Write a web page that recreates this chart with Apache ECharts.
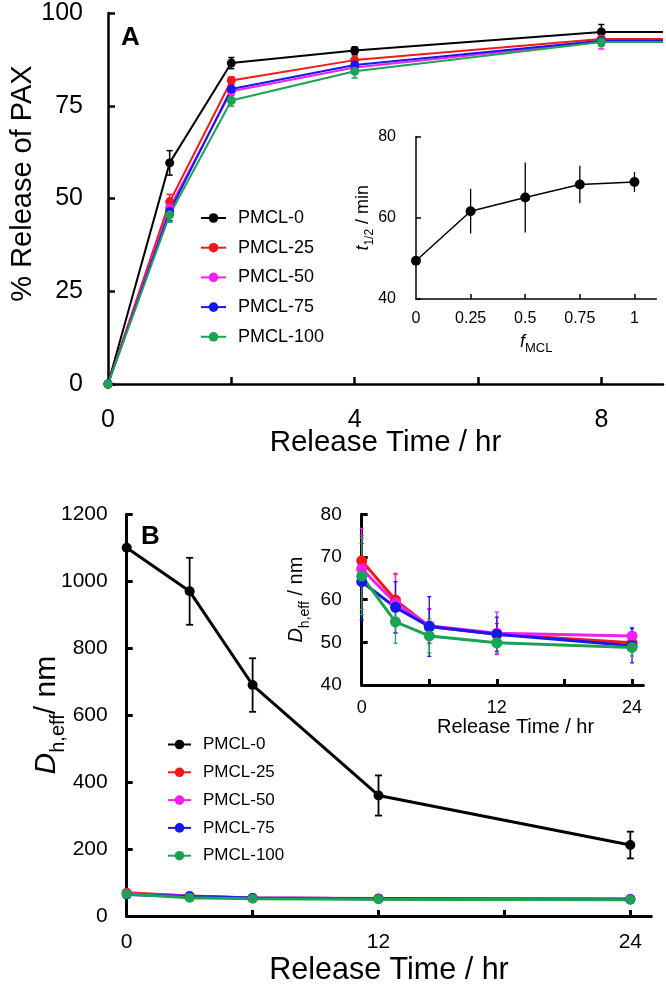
<!DOCTYPE html>
<html>
<head>
<meta charset="utf-8">
<script src="https://cdn.jsdelivr.net/npm/echarts@6/dist/echarts.min.js"></script>
<style>
  html, body { margin: 0; padding: 0; background: #fff; }
  #chart { width: 666px; height: 987px; }
</style>
</head>
<body>
<div id="chart"></div>
<script>
// ---- data ----
const seriesNames = ["PMCL-0", "PMCL-25", "PMCL-50", "PMCL-75", "PMCL-100"];
const seriesColors = ["#000000", "#f41818", "#f21ef2", "#1616f0", "#1aa352"];

// panel A: % release of PAX vs release time (hr)
const timeA = [0, 1, 2, 4, 8];
const releaseA = [
  [0, 59.6, 86.5, 89.9, 94.9],
  [0, 49.1, 81.8, 87.3, 93.0],
  [0, 47.5, 78.9, 85.3, 92.3],
  [0, 46.5, 79.5, 86.0, 92.5],
  [0, 45.6, 76.4, 84.3, 92.2]
];
const releaseErrA = [
  [0, 3.3, 1.5, 1.0, 2.0],
  [0, 2.0, 1.0, 1.2, 1.2],
  [0, 2.5, 1.2, 1.2, 2.0],
  [0, 2.5, 1.2, 1.2, 1.2],
  [0, 2.0, 1.5, 1.8, 1.2]
];
const tickAx = [2, 4, 6, 8];
const labelAx = [0, 4, 8];

// panel A inset: t1/2 vs f_MCL
const fMCL = [0, 0.25, 0.5, 0.75, 1];
const halfTime = [49.4, 61.6, 65.0, 68.2, 68.8];
const halfTimeErr = [1.0, 5.5, 8.6, 4.6, 2.5];
const tickInsetA = [0.25, 0.5, 0.75, 1];
const labelInsetA = [0, 0.25, 0.5, 0.75, 1];

// panel B: D_h,eff (nm) vs release time (hr)
const timeB = [0, 3, 6, 12, 24];
const sizeB = [
  [1100, 970, 690, 360, 212],
  [69.1, 59.9, 53.7, 51.9, 49.9],
  [67.2, 59.2, 53.9, 52.1, 51.5],
  [64.2, 58.2, 53.7, 51.9, 49.2],
  [65.5, 54.8, 51.5, 49.9, 48.8]
];
const sizeErrB = [
  [0, 100, 80, 60, 40],
  [6, 6, 4, 2.5, 2],
  [9.5, 7, 4, 5, 2],
  [9, 6, 7, 4, 4],
  [9, 5, 4, 2.5, 2]
];
const tickBx = [6, 12, 18, 24];
const labelBx = [0, 12, 24];

// ---- helpers ----
const FONT = "'Liberation Sans', Arial, sans-serif";

function axis(grid, min, max, o) {
  const a = {
    gridIndex: grid, type: "value", min: min, max: max,
    axisLine: { show: true, onZero: false, lineStyle: { color: "#000", width: o.lw } },
    axisTick: { show: true, inside: true, length: o.tick, lineStyle: { color: "#000", width: o.lw } },
    axisLabel: { color: "#000", fontSize: o.fs, fontFamily: FONT, margin: o.margin, formatter: v => String(v) },
    splitLine: { show: false },
    nameMoveOverlap: false
  };
  if (o.interval) a.interval = o.interval;
  if (o.ticks) a.axisTick.customValues = o.ticks;
  if (o.labels) a.axisLabel.customValues = o.labels;
  if (o.name) {
    a.name = o.name;
    a.nameLocation = "middle";
    a.nameGap = o.nameGap;
    a.nameTextStyle = Object.assign({ color: "#000", fontFamily: FONT }, o.nameStyle);
  }
  return a;
}

function lineSeries(idx, name, xs, ys, color, o) {
  const data = xs.map((x, i) => [x, ys[i]]);
  if (o.extendTo != null) data.push({ value: [o.extendTo, ys[ys.length - 1]], symbol: "none" });
  return {
    type: "line", name: name, xAxisIndex: idx, yAxisIndex: idx,
    data: data, symbol: "circle", symbolSize: o.sym,
    lineStyle: { color: color, width: o.lw }, itemStyle: { color: color },
    z: o.z || 3, animation: false
  };
}

function errSeries(idx, xs, ys, errs, color, o) {
  return {
    type: "custom", xAxisIndex: idx, yAxisIndex: idx, silent: true, animation: false,
    encode: { x: 0, y: [1, 2] }, z: o.z || 2, clip: false,
    data: xs.map((x, i) => [x, ys[i] - errs[i], ys[i] + errs[i]]),
    renderItem: function (params, api) {
      const lo = api.coord([api.value(0), api.value(1)]);
      const hi = api.coord([api.value(0), api.value(2)]);
      const st = { stroke: color, lineWidth: o.lw };
      const kids = [{ type: "line", shape: { x1: lo[0], y1: lo[1], x2: hi[0], y2: hi[1] }, style: st }];
      if (o.cap > 0 && api.value(2) - api.value(1) > 0) {
        kids.push({ type: "line", shape: { x1: lo[0] - o.cap, y1: lo[1], x2: lo[0] + o.cap, y2: lo[1] }, style: st });
        kids.push({ type: "line", shape: { x1: hi[0] - o.cap, y1: hi[1], x2: hi[0] + o.cap, y2: hi[1] }, style: st });
      }
      return { type: "group", children: kids };
    }
  };
}

const sub = (big, small, lift) => ({
  i: { fontStyle: "italic", fontSize: big, fontFamily: FONT, verticalAlign: "bottom", padding: [0, 0, lift, 0] },
  s: { fontSize: small, fontFamily: FONT, verticalAlign: "bottom" },
  n: { fontSize: big, fontFamily: FONT, verticalAlign: "bottom", padding: [0, 0, lift, 0] }
});

// ---- build ----
const series = [];
seriesNames.forEach((n, k) => {
  series.push(errSeries(0, timeA, releaseA[k], releaseErrA[k], seriesColors[k], { lw: 1.5, cap: 3 }));
  series.push(lineSeries(0, n, timeA, releaseA[k], seriesColors[k], { sym: 9, lw: 2, extendTo: 9 }));
});
series.push(errSeries(1, fMCL, halfTime, halfTimeErr, "#000", { lw: 1.3, cap: 0, z: 5 }));
series.push(lineSeries(1, "inset", fMCL, halfTime, "#000", { sym: 10, lw: 1.5, z: 6 }));
seriesNames.forEach((n, k) => {
  series.push(errSeries(2, timeB, sizeB[k], sizeErrB[k], seriesColors[k], { lw: 1.8, cap: 3.5 }));
  series.push(lineSeries(2, n, timeB, sizeB[k], seriesColors[k], { sym: 10, lw: 3 }));
});
// inset B only shows the PMCL-25 ... PMCL-100 series
seriesNames.forEach((n, k) => {
  if (k === 0) return;
  series.push(errSeries(3, timeB, sizeB[k], sizeErrB[k], seriesColors[k], { lw: 1.3, cap: 2, z: 5 }));
  series.push(lineSeries(3, n, timeB, sizeB[k], seriesColors[k], { sym: 11, lw: 3, z: 6 }));
});

const option = {
  backgroundColor: "#fff",
  animation: false,
  title: [
    { text: "A", left: 121, top: 25, padding: 0, textStyle: { fontSize: 26, fontWeight: "bold", color: "#000", fontFamily: FONT } },
    { text: "B", left: 141, top: 524, padding: 0, textStyle: { fontSize: 26, fontWeight: "bold", color: "#000", fontFamily: FONT } }
  ],
  legend: [
    {
      data: seriesNames, orient: "vertical", selectedMode: false,
      left: 195, top: 203, itemWidth: 25, itemHeight: 12, itemGap: 9.7,
      textStyle: { fontSize: 18, lineHeight: 20, color: "#000", fontFamily: FONT, padding: [0, 0, 0, 7] }
    },
    {
      data: seriesNames, orient: "vertical", selectedMode: false,
      left: 162, top: 730, itemWidth: 23, itemHeight: 12, itemGap: 8.8,
      textStyle: { fontSize: 17, lineHeight: 19, color: "#000", fontFamily: FONT, padding: [0, 0, 0, 7] }
    }
  ],
  grid: [
    { left: 100, top: 13, width: 563, height: 371 },
    { left: 416, top: 136.5, width: 240.3, height: 162.5 },
    { left: 126.7, top: 514.3, width: 524.6, height: 402.4 },
    { left: 361.7, top: 514.3, width: 281.6, height: 170.7 }
  ],
  xAxis: [
    axis(0, 0, 9, { lw: 2.5, tick: 7, fs: 25, margin: 24, ticks: tickAx, labels: labelAx,
      name: "Release Time / hr", nameGap: 44, nameStyle: { fontSize: 29.5 } }),
    axis(1, 0, 1.1, { lw: 1.5, tick: 5, fs: 16, margin: 12, ticks: tickInsetA, labels: labelInsetA,
      name: "{i|f}{s|MCL}", nameGap: 34, nameStyle: { rich: sub(18, 13, 4) } }),
    axis(2, 0, 25, { lw: 3, tick: 6, fs: 21, margin: 16, ticks: tickBx, labels: labelBx,
      name: "Release Time / hr", nameGap: 39, nameStyle: { fontSize: 30.5 } }),
    axis(3, 0, 25, { lw: 3, tick: 6, fs: 18, margin: 14, ticks: tickBx, labels: labelBx,
      name: "Release Time / hr", nameGap: 32, nameStyle: { fontSize: 20, padding: [0, 0, 0, 26] } })
  ],
  yAxis: [
    axis(0, 0, 100, { lw: 2.5, tick: 7, fs: 25, margin: 25, interval: 25,
      name: "% Release of PAX", nameGap: 71, nameStyle: { fontSize: 29, padding: [0, 0, 0, 30] } }),
    axis(1, 40, 80, { lw: 1.5, tick: 5, fs: 16, margin: 20, interval: 20,
      name: "{i|t}{s|1/2}{n| / min}", nameGap: 40, nameStyle: { rich: sub(18, 12, 4) } }),
    axis(2, 0, 1200, { lw: 3, tick: 6, fs: 21, margin: 19, interval: 200,
      name: "{i|D}{s|h,eff}{n|/ nm}", nameGap: 58, nameStyle: { rich: sub(30, 20, 7) } }),
    axis(3, 40, 80, { lw: 3, tick: 6, fs: 19, margin: 20, interval: 10,
      name: "{i|D}{s|h,eff}{n| / nm}", nameGap: 50, nameStyle: { rich: sub(20, 14, 5) } })
  ],
  series: series
};

const chart = echarts.init(document.getElementById("chart"), null, { renderer: "canvas" });
chart.setOption(option);
</script>
</body>
</html>
